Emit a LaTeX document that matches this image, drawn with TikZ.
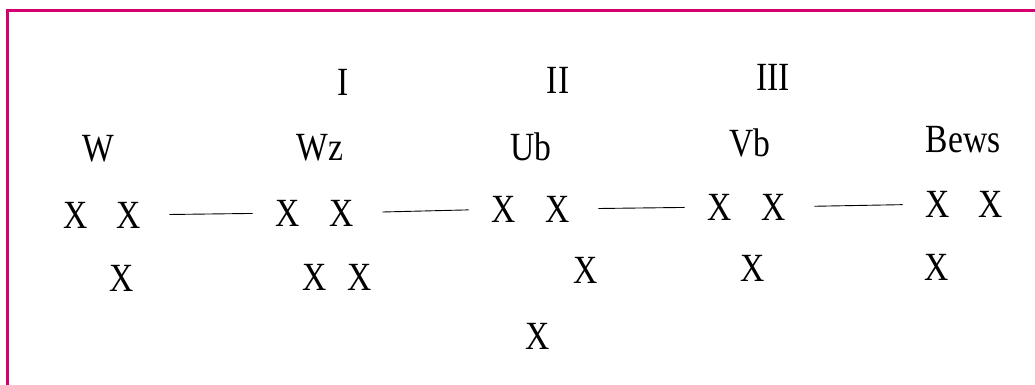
\documentclass[tikz,border=0pt]{standalone}
\usepackage{fontspec}
\usepackage{tikz}
\newfontfamily\scanfont[FakeStretch=0.84]{Liberation Serif}
\definecolor{framecol}{RGB}{212,0,112}

\begin{document}
\begin{tikzpicture}[x=1pt,y=-1pt,
    every node/.style={font=\scanfont\fontsize{40}{42}\selectfont,inner sep=0pt},
    link/.style={line width=0.9pt,shorten <=28pt,shorten >=23pt}]
    \useasboundingbox (0,0) rectangle (1035,385);

    % Draw the frame
    \draw[framecol,line width=3pt] (7,385) -- (7,10.5) -- (1035,10.5);

    % Add numerals
    \node (n1) at (343,82) {I};
    \node (n2) at (558,80) {II};
    \node (n3) at (773,77) {III};

    % Add names
    \node (w)  at (98,149)  {W};
    \node (wz) at (320,148) {Wz};
    \node (ub) at (531,147) {Ub};
    \node (vb) at (750,143) {Vb};
    \node (bw) at (963,140) {Bews};

    % Add crosses
    \node (w1) at (76,215) {X};
    \node (w2) at (129,215) {X};
    \node (w3) at (122,278) {X};

    \node (wz1) at (288,213) {X};
    \node (wz2) at (342,213) {X};
    \node (wz3) at (315,277) {X};
    \node (wz4) at (360,277) {X};

    \node (ub1) at (504,209) {X};
    \node (ub2) at (558,209) {X};
    \node (ub3) at (586,270) {X};
    \node (ub4) at (538,336) {X};

    \node (vb1) at (720,207) {X};
    \node (vb2) at (774,207) {X};
    \node (vb3) at (753,268) {X};

    \node (bw1) at (938,204) {X};
    \node (bw2) at (991,204) {X};
    \node (bw3) at (937,267) {X};

    % Connect groups
    \draw[link] (w2) -- (wz1);
    \draw[link] (wz2) -- (ub1);
    \draw[link] (ub2) -- (vb1);
    \draw[link] (vb2) -- (bw1);
\end{tikzpicture}
\end{document}
